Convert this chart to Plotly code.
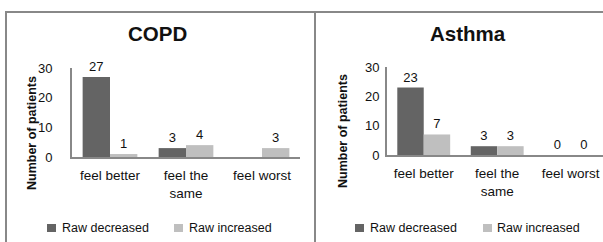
import plotly.graph_objects as go

categories = ["feel better", "feel the<br>same", "feel worst"]
copd_decreased = [27, 3, None]
copd_increased = [1, 4, 3]
asthma_decreased = [23, 3, 0]
asthma_increased = [7, 3, 0]
y_ticks = [0, 10, 20, 30]
series_names = ["Raw decreased", "Raw increased"]

DARK = "#646464"
LIGHT = "#bfbfbf"
AXIS = "#888888"
TXT = "#111111"
FONT = "Liberation Sans"
W, H = 603, 242

def px(x):
    return x / W

def py(y):
    return 1 - y / H

fig = go.Figure()

panels = [
    dict(xa="x", ya="y", dec=copd_decreased, inc=copd_increased),
    dict(xa="x2", ya="y2", dec=asthma_decreased, inc=asthma_increased),
]
for p in panels:
    for name, vals, col in [(series_names[0], p["dec"], DARK), (series_names[1], p["inc"], LIGHT)]:
        fig.add_trace(go.Bar(
            x=categories, y=vals, name=name, marker=dict(color=col, line=dict(width=0)),
            xaxis=p["xa"], yaxis=p["ya"], showlegend=False,
            text=[("" if v is None else str(v)) for v in vals],
            textposition="outside", cliponaxis=False,
            textfont=dict(family=FONT, size=13, color=TXT),
        ))

axis_common = dict(showgrid=False, zeroline=False, showline=True, linecolor=AXIS, linewidth=2,
                   ticks="", automargin=False)
xfont = dict(family=FONT, size=13.5, color=TXT)
yfont = dict(family=FONT, size=13, color=TXT)

fig.update_layout(
    width=W, height=H, margin=dict(l=0, r=0, t=0, b=0, autoexpand=False),
    paper_bgcolor="white", plot_bgcolor="white",
    barmode="group", bargap=0.28, bargroupgap=0,
    font=dict(family=FONT, size=13, color=TXT),
    xaxis=dict(domain=[px(72), px(300)], anchor="y", range=[-0.5, 2.5], ticklabelstandoff=5,
               tickfont=xfont, **axis_common),
    yaxis=dict(domain=[py(157), py(68)], anchor="x", range=[0, 30], tickvals=y_ticks, ticklabelstandoff=15,
               tickfont=yfont, **axis_common),
    xaxis2=dict(domain=[px(387), 1], anchor="y2", range=[-0.5, 2.44], ticklabelstandoff=5,
                tickfont=xfont, **axis_common),
    yaxis2=dict(domain=[py(155), py(67)], anchor="x2", range=[0, 30], tickvals=y_ticks, ticklabelstandoff=3,
                tickfont=yfont, **axis_common),
    showlegend=False,
)

fig.add_annotation(text="<b>COPD</b>", x=px(157), y=py(34), xref="paper", yref="paper",
                   xanchor="center", yanchor="middle",
                   showarrow=False, font=dict(family=FONT, size=20.5, color=TXT))
fig.add_annotation(text="<b>Asthma</b>", x=px(468), y=py(34), xref="paper", yref="paper",
                   xanchor="center", yanchor="middle",
                   showarrow=False, font=dict(family=FONT, size=20.5, color=TXT))
for xc, yc in [(32, 133), (343, 131)]:
    fig.add_annotation(text="<b>Number of patients</b>", x=px(xc), y=py(yc), xref="paper", yref="paper",
                       xanchor="center", yanchor="middle",
                       showarrow=False, textangle=-90, font=dict(family=FONT, size=12.5, color=TXT))

# legends (one per panel), drawn as annotations
legend_items = [
    (47, 60, series_names[0], DARK), (174, 187, series_names[1], LIGHT),
    (355, 368, series_names[0], DARK), (483, 495, series_names[1], LIGHT),
]
for sq_x, tx, name, col in legend_items:
    fig.add_shape(type="rect", xref="paper", yref="paper", x0=px(sq_x), x1=px(sq_x + 9),
                  y0=py(232), y1=py(224), fillcolor=col, line=dict(width=0))
    fig.add_annotation(text=name, x=px(tx), y=py(228), xref="paper", yref="paper",
                       xanchor="left", yanchor="middle",
                       showarrow=False, font=dict(family=FONT, size=12.5, color=TXT))

# panel borders
border = dict(color=AXIS, width=2)
fig.add_shape(type="line", xref="paper", yref="paper", x0=px(5), x1=1, y0=py(12), y1=py(12), line=border)
fig.add_shape(type="line", xref="paper", yref="paper", x0=px(6), x1=px(6), y0=py(12), y1=0, line=border)
fig.add_shape(type="line", xref="paper", yref="paper", x0=px(315), x1=px(315), y0=py(12), y1=0, line=border)

fig.write_html("out.html", config={"displayModeBar": False},
               post_script="document.body.style.margin='0';document.body.style.overflow='hidden';")
